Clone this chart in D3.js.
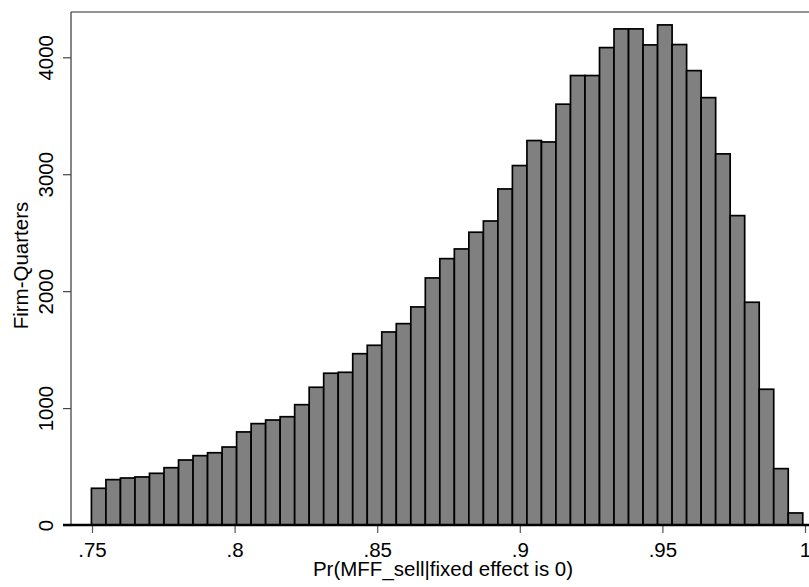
<!DOCTYPE html>
<html>
<head>
<meta charset="utf-8">
<script src="https://cdn.jsdelivr.net/npm/d3@7"></script>
<style>
  html, body { margin: 0; padding: 0; background: #fff; }
  svg { display: block; }
  text { font-family: "Liberation Sans", Arial, sans-serif; }
</style>
</head>
<body>
<script>
// ---- data ----
const binStart = 0.7498;
const binWidth = 0.00509;
const counts = [314, 388, 402, 411, 442, 490, 556, 593, 618, 667,
                796, 867, 898, 926, 1029, 1178, 1298, 1306, 1465, 1537,
                1651, 1722, 1865, 2113, 2278, 2361, 2504, 2600, 2874, 3074,
                3288, 3276, 3599, 3844, 3844, 4083, 4243, 4243, 4106, 4277,
                4109, 3886, 3655, 3174, 2646, 1905, 1161, 482, 103];
const xTicks = [0.75, 0.8, 0.85, 0.9, 0.95, 1.0];
const xTickLabels = [".75", ".8", ".85", ".9", ".95", "1"];
const yTicks = [0, 1000, 2000, 3000, 4000];
const xTitle = "Pr(MFF_sell|fixed effect is 0)";
const yTitle = "Firm-Quarters";

const bins = counts.map((c, i) => ({x0: binStart + i * binWidth, x1: binStart + (i + 1) * binWidth, n: c}));

// ---- layout ----
const W = 809, H = 587;
const frameL = 71, frameT = 12, frameR = 826, frameB = 525;
const x = d3.scaleLinear().domain([0.75, 1.0]).range([92, 805]);
const y = d3.scaleLinear().domain([0, 4000]).range([525, 57.3]);
const fs = 20.5;

const svg = d3.select("body").append("svg").attr("width", W).attr("height", H);
svg.append("rect").attr("width", W).attr("height", H).attr("fill", "#fff");

// top frame line
svg.append("line").attr("x1", frameL).attr("x2", frameR).attr("y1", frameT).attr("y2", frameT)
  .attr("stroke", "#6e6e6e").attr("stroke-width", 1.5);

// bars
svg.append("g").selectAll("rect").data(bins).join("rect")
  .attr("x", d => x(d.x0))
  .attr("y", d => y(d.n))
  .attr("width", d => x(d.x1) - x(d.x0))
  .attr("height", d => y(0) - y(d.n))
  .attr("fill", "#808080")
  .attr("stroke", "#000")
  .attr("stroke-width", 1.7);

// y axis
const yAxis = d3.axisLeft(y).tickValues(yTicks).tickSize(8).tickFormat(d3.format("d"));
const gy = svg.append("g").attr("transform", `translate(${frameL},0)`).call(yAxis);
gy.select(".domain").remove();
gy.selectAll(".tick line").attr("stroke", "#444").attr("stroke-width", 1.2);
gy.selectAll(".tick text")
  .attr("x", null).attr("dy", null)
  .attr("transform", "translate(-18,0) rotate(-90)")
  .attr("text-anchor", "middle")
  .attr("font-size", fs).attr("fill", "#000")
  .style("font-family", '"Liberation Sans", Arial, sans-serif');
svg.append("line").attr("x1", frameL).attr("x2", frameL).attr("y1", frameT).attr("y2", frameB)
  .attr("stroke", "#444").attr("stroke-width", 1.3);

// x axis
const xAxis = d3.axisBottom(x).tickValues(xTicks).tickSize(8)
  .tickFormat((d, i) => xTickLabels[i]);
const gx = svg.append("g").attr("transform", `translate(0,${frameB})`).call(xAxis);
gx.select(".domain").remove();
gx.selectAll(".tick line").attr("stroke", "#555").attr("stroke-width", 1.2);
gx.selectAll(".tick text")
  .attr("y", 32).attr("dy", null)
  .attr("font-size", fs).attr("fill", "#000")
  .style("font-family", '"Liberation Sans", Arial, sans-serif');
svg.append("line").attr("x1", 63).attr("x2", frameR).attr("y1", frameB).attr("y2", frameB)
  .attr("stroke", "#000").attr("stroke-width", 2.4);

// titles
svg.append("text").attr("x", 443).attr("y", 576).attr("text-anchor", "middle")
  .attr("font-size", fs).attr("fill", "#000").text(xTitle);
svg.append("text").attr("transform", "translate(28,265.5) rotate(-90)").attr("text-anchor", "middle")
  .attr("font-size", fs).attr("fill", "#000").text(yTitle);
</script>
</body>
</html>
